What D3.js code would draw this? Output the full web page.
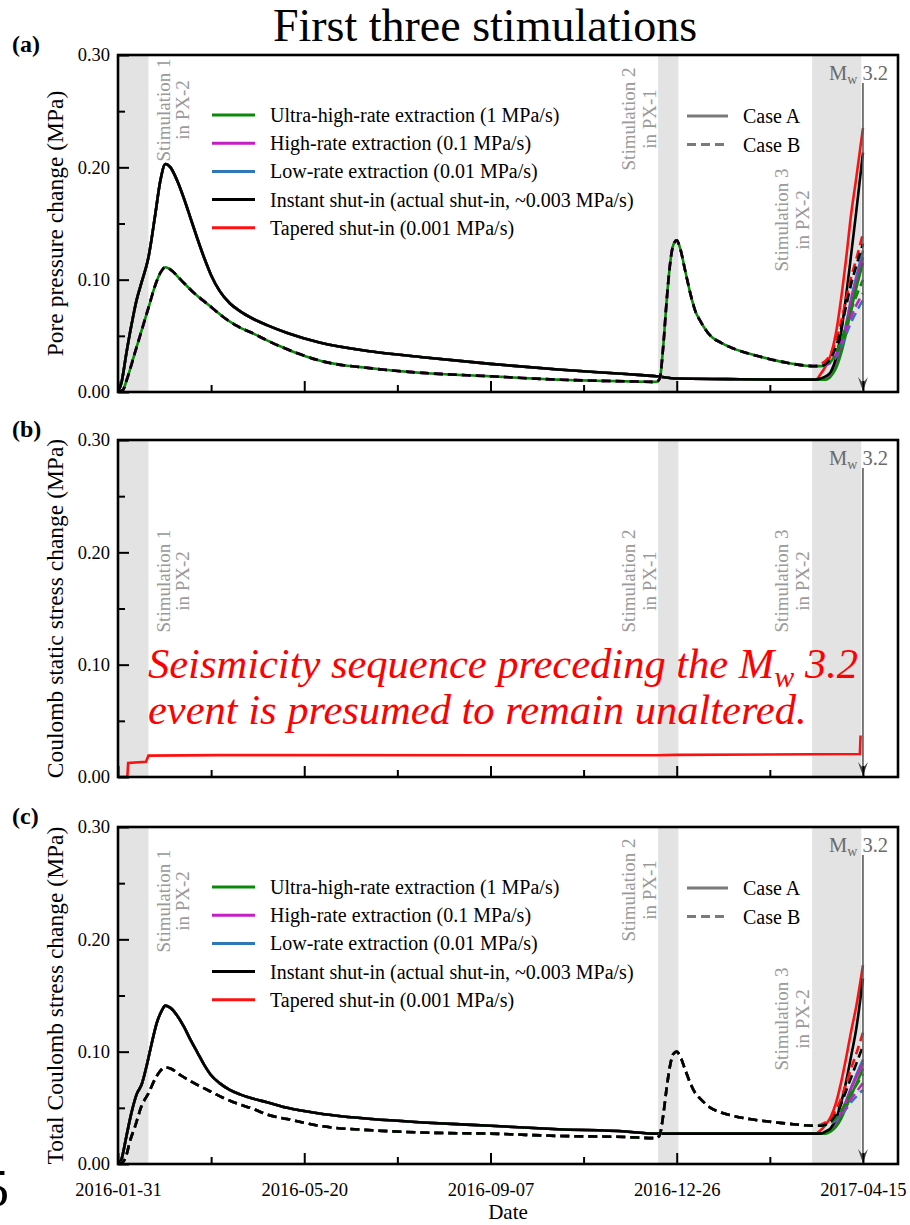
<!DOCTYPE html>
<html>
<head>
<meta charset="utf-8">
<script src="https://cdn.jsdelivr.net/npm/d3@7"></script>
<style>
  body { margin: 0; background: #fff; }
  svg text { font-family: "Liberation Serif", "Times New Roman", serif; }
</style>
</head>
<body>
<script>
// ---------- data (days counted from 2016-01-31) ----------
const startDate = "2016-01-31";
const endDay = 460.7;
const eventDate = "2017-04-15";

const stimStart = ["2016-01-31", "2016-12-15", "2017-03-16"];
const stimEnd   = ["2016-02-18", "2016-12-27", "2017-04-14"];
const stimNames = ["Stimulation 1", "Stimulation 2", "Stimulation 3"];
const stimWells = ["in PX-2", "in PX-1", "in PX-2"];

const majorTicks = ["2016-01-31", "2016-05-20", "2016-09-07", "2016-12-26", "2017-04-15"];
const minorTicks = ["2016-03-26", "2016-07-14", "2016-11-01", "2017-02-19"];
const yMajorTicks = [0, 0.1, 0.2, 0.3];
const yMinorTicks = [0.05, 0.15, 0.25];

const scenarios = [
  "Ultra-high-rate extraction (1 MPa/s)",
  "High-rate extraction (0.1 MPa/s)",
  "Low-rate extraction (0.01 MPa/s)",
  "Instant shut-in (actual shut-in, ~0.003 MPa/s)",
  "Tapered shut-in (0.001 MPa/s)"
];
const scenarioColors = ["#0a8a0a", "#c41fc4", "#2f78b8", "#000000", "#ff1010"];
const cases = ["Case A", "Case B"];

// (a) pore pressure, shared history before stimulation 3
const poreDaysA = [0, 2, 5, 8, 11, 14, 18, 22, 25, 28, 31, 35, 39, 43, 47, 51, 55, 60, 66, 72, 80, 88, 100, 119, 150, 180, 220, 260, 300, 318, 330, 360, 395];
const poreValsA = [0, 0.008, 0.035, 0.060, 0.082, 0.098, 0.120, 0.158, 0.188, 0.203, 0.200, 0.188, 0.172, 0.154, 0.136, 0.119, 0.104, 0.090, 0.079, 0.072, 0.065, 0.0595, 0.0525, 0.044, 0.036, 0.031, 0.025, 0.020, 0.016, 0.014, 0.012, 0.0115, 0.011];
const poreDaysB = [0, 3, 5, 10, 14, 18, 22, 25, 28, 31, 37, 45, 54, 62, 70, 80, 88, 100, 119, 150, 180, 220, 260, 300, 318, 320, 322, 324, 326, 328, 330, 332, 335, 338, 341, 344, 350, 356, 363, 373, 383, 395];
const poreValsB = [0, 0.002, 0.010, 0.035, 0.055, 0.075, 0.095, 0.106, 0.111, 0.109, 0.100, 0.088, 0.077, 0.067, 0.059, 0.052, 0.046, 0.038, 0.028, 0.021, 0.017, 0.014, 0.011, 0.0095, 0.009, 0.012, 0.040, 0.080, 0.113, 0.131, 0.135, 0.128, 0.108, 0.088, 0.072, 0.063, 0.050, 0.044, 0.039, 0.034, 0.030, 0.026];

// stimulation 3 tails, one row per scenario (green, magenta, blue, black, red)
const tailDays = [412, 415, 418, 421, 424, 427, 430, 433, 436, 440];
const poreTailA = [
  [0.011, 0.011, 0.011, 0.014, 0.021, 0.034, 0.052, 0.073, 0.092, 0.115],
  [0.011, 0.011, 0.012, 0.016, 0.024, 0.038, 0.058, 0.080, 0.098, 0.120],
  [0.011, 0.011, 0.012, 0.016, 0.025, 0.040, 0.060, 0.083, 0.102, 0.126],
  [0.011, 0.012, 0.014, 0.018, 0.030, 0.052, 0.085, 0.122, 0.160, 0.213],
  [0.011, 0.016, 0.023, 0.033, 0.052, 0.082, 0.118, 0.158, 0.190, 0.235]
];
const poreTailB = [
  [0.023, 0.023, 0.024, 0.027, 0.034, 0.045, 0.059, 0.073, 0.085, 0.100],
  [0.023, 0.023, 0.024, 0.027, 0.033, 0.043, 0.055, 0.067, 0.077, 0.088],
  [0.023, 0.023, 0.024, 0.026, 0.031, 0.040, 0.051, 0.062, 0.071, 0.082],
  [0.023, 0.023, 0.025, 0.030, 0.040, 0.056, 0.076, 0.096, 0.112, 0.132],
  [0.023, 0.025, 0.028, 0.034, 0.045, 0.062, 0.082, 0.102, 0.118, 0.141]
];

// (b) Coulomb static stress change
const staticDays = [0, 5.5, 6, 16.5, 18, 60, 220, 318, 330, 438.2, 438.6];
const staticVals = [0, 0, 0.0125, 0.0135, 0.019, 0.0195, 0.0193, 0.0193, 0.0197, 0.0205, 0.037];

// (c) total Coulomb stress change
const totalDaysA = [0, 2, 5, 8, 11, 14, 17, 20, 23, 26, 28, 31, 35, 39, 43, 47, 51, 55, 60, 66, 72, 80, 88, 100, 119, 150, 180, 220, 260, 300, 318, 330, 360, 395];
const totalValsA = [0, 0.004, 0.025, 0.046, 0.062, 0.071, 0.088, 0.108, 0.126, 0.137, 0.141, 0.139, 0.132, 0.122, 0.110, 0.099, 0.088, 0.079, 0.072, 0.066, 0.062, 0.058, 0.055, 0.050, 0.045, 0.040, 0.037, 0.034, 0.031, 0.029, 0.027, 0.027, 0.027, 0.027];
const totalDaysB = [0, 3, 5, 7, 10, 14, 18, 22, 25, 28, 31, 37, 45, 54, 62, 70, 80, 88, 100, 119, 150, 180, 220, 260, 300, 318, 320, 322, 324, 326, 328, 330, 332, 335, 338, 341, 344, 350, 356, 363, 373, 383, 395];
const totalValsB = [0, 0.002, 0.008, 0.020, 0.033, 0.052, 0.063, 0.076, 0.083, 0.086, 0.085, 0.079, 0.072, 0.065, 0.059, 0.054, 0.049, 0.044, 0.040, 0.034, 0.030, 0.028, 0.027, 0.025, 0.024, 0.023, 0.026, 0.043, 0.067, 0.087, 0.098, 0.100, 0.096, 0.084, 0.072, 0.063, 0.058, 0.050, 0.046, 0.043, 0.040, 0.038, 0.036];
const totalTailA = [
  [0.027, 0.027, 0.027, 0.029, 0.033, 0.040, 0.050, 0.061, 0.071, 0.085],
  [0.027, 0.027, 0.028, 0.030, 0.035, 0.044, 0.055, 0.067, 0.077, 0.090],
  [0.027, 0.027, 0.028, 0.031, 0.036, 0.045, 0.056, 0.068, 0.079, 0.093],
  [0.027, 0.027, 0.029, 0.032, 0.040, 0.054, 0.073, 0.096, 0.120, 0.165],
  [0.027, 0.030, 0.035, 0.042, 0.054, 0.072, 0.094, 0.118, 0.140, 0.177]
];
const totalTailB = [
  [0.034, 0.034, 0.035, 0.037, 0.041, 0.047, 0.055, 0.063, 0.070, 0.080],
  [0.034, 0.034, 0.035, 0.037, 0.040, 0.045, 0.051, 0.058, 0.064, 0.072],
  [0.034, 0.034, 0.035, 0.036, 0.039, 0.044, 0.049, 0.055, 0.060, 0.066],
  [0.034, 0.034, 0.035, 0.038, 0.044, 0.053, 0.065, 0.077, 0.089, 0.105],
  [0.034, 0.035, 0.037, 0.041, 0.048, 0.058, 0.071, 0.085, 0.098, 0.117]
];

// ---------- layout ----------
const W = 910, H = 1225;
const left = 118, right = 898;
const panelTops = [55, 440, 827];
const panelH = 337;
const parse = d3.utcParse("%Y-%m-%d");
const t0 = parse(startDate);
const dayToDate = d => new Date(t0.getTime() + d * 864e5);

const svg = d3.select("body").append("svg")
    .attr("width", W)
    .attr("height", H);

const x = d3.scaleUtc()
    .domain([t0, dayToDate(endDay)])
    .range([left, right]);

// Title
svg.append("text")
    .attr("x", 485)
    .attr("y", 41)
    .attr("text-anchor", "middle")
    .style("font-size", "46px")
    .text("First three stimulations");

// stray page glyph at the bottom-left edge
svg.append("text")
    .attr("x", -17)
    .attr("y", 1206)
    .style("font-size", "52px")
    .text("5");

function buildSeries(days, vals, tail) {
    const pts = days.map((d, i) => [dayToDate(d), vals[i]]);
    return pts.concat(tailDays.map((d, i) => [dayToDate(d), tail[i]]));
}

function drawPanel(idx, opts) {
    const top = panelTops[idx];
    const bottom = top + panelH;
    const y = d3.scaleLinear().domain([0, 0.3]).range([bottom, top]);
    const g = svg.append("g");

    g.append("clipPath").attr("id", "clip" + idx)
        .append("rect").attr("x", left).attr("y", top)
        .attr("width", right - left).attr("height", panelH);

    // stimulation windows
    stimStart.forEach((s, i) => {
        g.append("rect")
            .attr("x", x(parse(s)))
            .attr("y", top)
            .attr("width", x(parse(stimEnd[i])) - x(parse(s)))
            .attr("height", panelH)
            .attr("fill", "#e3e3e3");
    });

    // stimulation labels
    const labX = [[170, 189], [635, 656], [788, 809]];
    stimNames.forEach((name, i) => {
        const cy = opts.stimY[i];
        [name, stimWells[i]].forEach((t, j) => {
            g.append("text")
                .attr("transform", "translate(" + labX[i][j] + "," + cy + ") rotate(-90)")
                .attr("text-anchor", "middle")
                .style("font-size", "19px")
                .style("fill", "#9a9a9a")
                .text(t);
        });
    });

    // data lines
    const line = d3.line()
        .x(d => x(d[0]))
        .y(d => y(d[1]))
        .curve(opts.linear ? d3.curveLinear : d3.curveMonotoneX);
    const lg = g.append("g").attr("clip-path", "url(#clip" + idx + ")");
    opts.series.forEach(s => {
        lg.append("path")
            .datum(s.pts)
            .attr("fill", "none")
            .attr("stroke", s.color)
            .attr("stroke-width", 2.6)
            .attr("stroke-dasharray", s.dash || null)
            .attr("stroke-dashoffset", s.offset || 0)
            .attr("d", line);
    });

    // event arrow
    const ex = x(parse(eventDate));
    g.append("line")
        .attr("x1", ex).attr("x2", ex)
        .attr("y1", top + 28).attr("y2", bottom - 2)
        .attr("stroke", "#5a5a5a")
        .attr("stroke-width", 1.6);
    g.append("path")
        .attr("d", "M" + (ex - 5) + "," + (bottom - 15) + " L" + ex + "," + (bottom - 1) +
            " L" + (ex + 5) + "," + (bottom - 15) + " L" + ex + "," + (bottom - 9) + " Z")
        .attr("fill", "#4a4a4a");
    const mw = g.append("text")
        .attr("x", 888)
        .attr("y", top + 25)
        .attr("text-anchor", "end")
        .style("font-size", "20.5px")
        .style("fill", "#6a6a6a");
    mw.append("tspan").text("M");
    mw.append("tspan").attr("dy", 4).style("font-size", "14px").text("w");
    mw.append("tspan").attr("dy", -4).text(" 3.2");

    // axes (ticks point inward)
    const ax = g.append("g").attr("transform", "translate(0," + bottom + ")");
    ax.call(d3.axisBottom(x)
        .tickValues(majorTicks.map(parse))
        .tickSizeInner(-11).tickSizeOuter(0).tickPadding(19)
        .tickFormat(opts.xLabels ? d3.utcFormat("%Y-%m-%d") : ""));
    ax.append("g").call(d3.axisBottom(x)
        .tickValues(minorTicks.map(parse))
        .tickSizeInner(-7).tickSizeOuter(0).tickFormat(""));

    const ay = g.append("g").attr("transform", "translate(" + left + ",0)");
    ay.call(d3.axisLeft(y)
        .tickValues(yMajorTicks)
        .tickSizeInner(-11).tickSizeOuter(0).tickPadding(8)
        .tickFormat(d3.format(".2f")));
    ay.append("g").call(d3.axisLeft(y)
        .tickValues(yMinorTicks)
        .tickSizeInner(-7).tickSizeOuter(0).tickFormat(""));

    g.selectAll(".domain").remove();
    g.selectAll(".tick line").attr("stroke", "#000").attr("stroke-width", 2);
    g.selectAll(".tick text")
        .style("font-size", "18.5px")
        .style("font-family", "'Liberation Serif', serif")
        .attr("fill", "#000");

    // frame
    g.append("rect")
        .attr("x", left).attr("y", top)
        .attr("width", right - left).attr("height", panelH)
        .attr("fill", "none")
        .attr("stroke", "#000")
        .attr("stroke-width", 2.6);

    // panel tag and y title
    g.append("text")
        .attr("x", 12)
        .attr("y", top - 3)
        .style("font-size", "24px")
        .style("font-weight", "bold")
        .text(opts.tag);
    g.append("text")
        .attr("transform", "translate(63," + (top + panelH / 2) + ") rotate(-90)")
        .attr("text-anchor", "middle")
        .style("font-size", "23.5px")
        .text(opts.yTitle);

    if (opts.legend) {
        scenarios.forEach((name, i) => {
            const ly = top + 60 + i * 28.2;
            g.append("line")
                .attr("x1", 212).attr("x2", 255)
                .attr("y1", ly).attr("y2", ly)
                .attr("stroke", scenarioColors[i])
                .attr("stroke-width", 3);
            g.append("text")
                .attr("x", 270).attr("y", ly)
                .attr("dy", "0.35em")
                .style("font-size", "20px")
                .text(name);
        });
        cases.forEach((name, i) => {
            const ly = top + 61 + i * 28.5;
            g.append("line")
                .attr("x1", 687).attr("x2", 728)
                .attr("y1", ly).attr("y2", ly)
                .attr("stroke", "#7a7a7a")
                .attr("stroke-width", 3)
                .attr("stroke-dasharray", i === 1 ? "9,5" : null);
            g.append("text")
                .attr("x", 743).attr("y", ly)
                .attr("dy", "0.35em")
                .style("font-size", "20px")
                .text(name);
        });
    }
    return { g, y };
}

// drawing order keeps black on top of the shared history
const drawOrder = [4, 2, 1, 0, 3];

function caseSeries(daysA, valsA, tailA, daysB, valsB, tailB, greenOffset) {
    const out = [];
    drawOrder.forEach(k => out.push({ pts: buildSeries(daysA, valsA, tailA[k]), color: scenarioColors[k] }));
    drawOrder.forEach(k => out.push({
        pts: buildSeries(daysB, valsB, tailB[k]),
        color: scenarioColors[k],
        dash: "9,5",
        offset: k === 0 ? greenOffset : 0
    }));
    return out;
}

drawPanel(0, {
    tag: "(a)",
    yTitle: "Pore pressure change (MPa)",
    stimY: [110, 119, 220],
    legend: true,
    xLabels: false,
    series: caseSeries(poreDaysA, poreValsA, poreTailA, poreDaysB, poreValsB, poreTailB, 7)
});

const p2 = drawPanel(1, {
    tag: "(b)",
    yTitle: "Coulomb static stress change (MPa)",
    stimY: [581, 581, 581],
    legend: false,
    xLabels: false,
    linear: true,
    series: [{ pts: staticDays.map((d, i) => [dayToDate(d), staticVals[i]]), color: "#ff1010" }]
});

const note = p2.g.append("g")
    .style("fill", "#ff0000")
    .style("font-style", "italic")
    .style("font-size", "42.5px");
const l1 = note.append("text").attr("x", 148).attr("y", 678);
l1.append("tspan").text("Seismicity sequence preceding the M");
l1.append("tspan").attr("dy", 9).style("font-size", "30px").text("w");
l1.append("tspan").attr("dy", -9).text(" 3.2");
note.append("text").attr("x", 148).attr("y", 724)
    .text("event is presumed to remain unaltered.");

drawPanel(2, {
    tag: "(c)",
    yTitle: "Total Coulomb stress change (MPa)",
    stimY: [901, 890, 1019],
    legend: true,
    xLabels: true,
    series: caseSeries(totalDaysA, totalValsA, totalTailA, totalDaysB, totalValsB, totalTailB, 0)
});

svg.append("text")
    .attr("x", 508)
    .attr("y", 1219)
    .attr("text-anchor", "middle")
    .style("font-size", "21px")
    .text("Date");
</script>
</body>
</html>
